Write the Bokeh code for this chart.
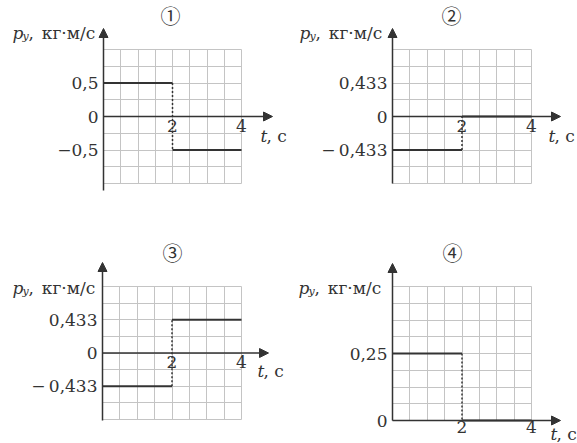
import numpy as np
from bokeh.plotting import figure
from bokeh.models import Range1d, LinearAxis, FixedTicker, Grid, Arrow, NormalHead, Label
from bokeh.layouts import column, row
from bokeh.embed import file_html
from bokeh.resources import INLINE

# ---------------- data ----------------
panel_marks = ["①", "②", "③", "④"]
t_breaks = [0, 2, 4]                      # s
p1_values = [0.5, -0.5]                   # kg·m/s on [0,2] and [2,4]
p2_values = [-0.433, 0.0]
p3_values = [-0.433, 0.433]
p4_values = [0.25, 0.0]
x_ticks = [2, 4]
x_tick_labels = ["2", "4"]
p1_yticks = [-0.5, 0, 0.5]
p1_ylabels = ["−0,5", "0", "0,5"]
p2_yticks = [-0.433, 0, 0.433]
p2_ylabels = ["−\u20090,433", "0", "0,433"]
p3_yticks = [-0.433, 0, 0.433]
p3_ylabels = ["−\u20090,433", "0", "0,433"]
p4_yticks = [0, 0.25]
p4_ylabels = ["0", "0,25"]
y_title_main = "p"
y_title_sub = "y"
y_title_comma = ","
y_title_unit = "кг·м/с"
x_title_main = "t"
x_title_rest = ", с"

# ---------------- style ----------------
INK = "#333333"
GRID = "#c4c4c4"
SERIF = "DejaVu Serif"
FS = "17px"


def make_panel(values, yticks, ylabels, mark, box, tx0, tx4, anchorA, anchorB,
               gy, yax_px, xtip_px, title_px, ylab_px, tlab_px, xstand):
    L, T, R, B = box
    W, H = R - L, B - T
    kx = (tx4 - tx0) / 4.0
    (vA, ryA), (vB, ryB) = anchorA, anchorB
    ky = (ryB - ryA) / (vA - vB)

    def vx(rx):
        return (rx - tx0) / kx

    def vy(ry):
        return vA + (ryA - ry) / ky

    p = figure(width=W, height=H, x_range=Range1d(vx(L), vx(R)),
               y_range=Range1d(vy(B), vy(T)), output_backend="svg",
               toolbar_location=None, x_axis_type=None, y_axis_type=None,
               min_border=0, outline_line_color=None)

    xg = Grid(dimension=0, ticker=FixedTicker(ticks=list(np.linspace(0, 4, 9))),
              bounds=(0, 4), cross_bounds=(gy[0], gy[-1]),
              grid_line_color=GRID, grid_line_width=1)
    yg = Grid(dimension=1, ticker=FixedTicker(ticks=list(gy)),
              bounds=(gy[0], gy[-1]), cross_bounds=(0, 4),
              grid_line_color=GRID, grid_line_width=1)
    p.add_layout(xg)
    p.add_layout(yg)

    common = dict(fixed_location=0, axis_line_color=None,
                  major_tick_line_color=None, minor_tick_line_color=None,
                  major_tick_in=0, major_tick_out=0, minor_tick_in=0, minor_tick_out=0,
                  major_label_text_font=SERIF, major_label_text_font_size=FS,
                  major_label_text_color=INK)
    xa = LinearAxis(ticker=FixedTicker(ticks=x_ticks),
                    major_label_overrides=dict(zip(x_ticks, x_tick_labels)),
                    major_label_standoff=xstand, **common)
    p.add_layout(xa, "below")
    ya = LinearAxis(ticker=FixedTicker(ticks=yticks),
                    major_label_overrides=dict(zip(yticks, ylabels)),
                    major_label_standoff=5, **common)
    p.add_layout(ya, "left")

    p.add_layout(Arrow(end=NormalHead(size=9, fill_color=INK, line_color=INK),
                       x_start=0, y_start=0, x_end=vx(xtip_px), y_end=0,
                       line_color=INK, line_width=1.5))
    p.add_layout(Arrow(end=NormalHead(size=9, fill_color=INK, line_color=INK),
                       x_start=0, y_start=vy(yax_px[0]), x_end=0, y_end=vy(yax_px[1]),
                       line_color=INK, line_width=1.5))

    p.segment(x0=t_breaks[:-1], y0=values, x1=t_breaks[1:], y1=values,
              line_color=INK, line_width=2.2)
    p.segment(x0=[t_breaks[1]], y0=[values[0]], x1=[t_breaks[1]], y1=[values[1]],
              line_color=INK, line_width=1.5, line_dash="2 2")

    def lab(text, rx, ry, **kw):
        p.add_layout(Label(x=rx - L, y=B - ry, x_units="screen", y_units="screen",
                           text=text, text_color=INK, **kw))

    lab(mark, title_px[0], title_px[1], text_align="center", text_baseline="middle",
        text_font="Noto Sans CJK JP", text_font_size="20px")
    # y title
    lx, base = ylab_px
    lab(y_title_main, lx, base, text_font=SERIF, text_font_style="italic",
        text_font_size=FS, text_baseline="alphabetic")
    lab(y_title_sub, lx + 10, base + 4, text_font=SERIF, text_font_style="italic",
        text_font_size="11px", text_baseline="alphabetic")
    lab(y_title_comma, lx + 16, base, text_font=SERIF,
        text_font_size=FS, text_baseline="alphabetic")
    lab(y_title_unit, lx + 56, base, text_font=SERIF, text_font_size=FS,
        text_align="center", text_baseline="alphabetic")
    # x title
    tx, tb = tlab_px
    lab(x_title_main, tx, tb, text_font=SERIF, text_font_style="italic",
        text_font_size=FS, text_baseline="alphabetic")
    lab(x_title_rest, tx + 6, tb, text_font=SERIF, text_font_size=FS,
        text_baseline="alphabetic")
    return p


f1 = make_panel(p1_values, p1_yticks, p1_ylabels, panel_marks[0],
                (0, 0, 290, 220), 103, 241, (1.0, 49), (-1.0, 183),
                np.linspace(-1, 1, 9), (190, 28), 272, (170, 15),
                (12, 32), (260, 135), 3)
f2 = make_panel(p2_values, p2_yticks, p2_ylabels, panel_marks[1],
                (290, 0, 577, 220), 392, 531, (0.866, 49), (-0.866, 183),
                np.linspace(-0.866, 0.866, 9), (183, 28), 560, (451, 15),
                (299, 32), (548, 135), 3)
f3 = make_panel(p3_values, p3_yticks, p3_ylabels, panel_marks[2],
                (0, 220, 290, 443), 102, 241, (0.866, 286), (-0.866, 419),
                np.linspace(-0.866, 0.866, 9), (420, 262), 268, (172, 252),
                (12, 287), (257, 370), 3)
f4 = make_panel(p4_values, p4_yticks, p4_ylabels, panel_marks[3],
                (290, 220, 577, 443), 392, 531, (0.5, 286), (0.0, 420),
                np.linspace(0, 0.5, 9), (420, 263), 560, (452, 252),
                (298, 287), (550, 433), 0)

layout = column(row(f1, f2), row(f3, f4))
open("out.html", "w").write(file_html(layout, INLINE))
